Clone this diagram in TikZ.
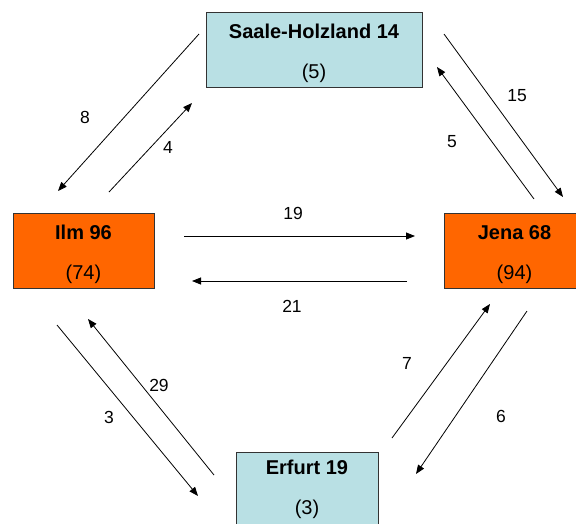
\documentclass[tikz,border=0pt]{standalone}
\usepackage{fontspec}
\setmainfont{Liberation Sans}
\usetikzlibrary{arrows.meta}
\definecolor{lblue}{RGB}{185,224,228}
\definecolor{orng}{RGB}{255,102,0}
\newcommand{\pushdown}{\rule{0pt}{22.5pt}}
\tikzset{
  box/.style={draw=black!80, line width=0.9pt, minimum width=141pt, minimum height=75pt, align=center, inner sep=0pt, font=\fontsize{20}{40}\selectfont},
  bluebox/.style={box, fill=lblue},
  orangebox/.style={box, fill=orng},
  flow/.style={line width=0.8pt, -{Triangle[length=9pt,width=7pt]}},
  lbl/.style={font=\fontsize{17.5}{20}\selectfont, inner sep=0pt}
}
\begin{document}
\begin{tikzpicture}[x=1pt,y=-1pt]
\useasboundingbox (0,0) rectangle (576,523);
\clip (0,0) rectangle (576,523);
\node[bluebox, minimum width=216pt] (saale) at (314,49.5) {\pushdown\textbf{Saale-Holzland 14}\\(5)};
\node[orangebox] (ilm) at (83.5,250.5) {\pushdown\textbf{Ilm 96}\\(74)};
\node[orangebox] (jena) at (514.5,250.5) {\pushdown\textbf{Jena 68}\\(94)};
\node[bluebox, minimum width=142pt] (erfurt) at (307,489.5) {\textbf{Erfurt 19}\\(3)};
% endpoints
\coordinate (a8s) at (199,34);  \coordinate (a8e) at (58,191);
\coordinate (a4s) at (109,192); \coordinate (a4e) at (192,103);
\coordinate (a15s) at (444,34); \coordinate (a15e) at (563,197);
\coordinate (a5s) at (534,199); \coordinate (a5e) at (437,67);
\coordinate (a19s) at (184,236); \coordinate (a19e) at (415,236);
\coordinate (a21s) at (407,281); \coordinate (a21e) at (192,281);
\coordinate (a3s) at (57,325);  \coordinate (a3e) at (198,496);
\coordinate (a29s) at (214,475); \coordinate (a29e) at (88,319);
\coordinate (a7s) at (392,438); \coordinate (a7e) at (490,304);
\coordinate (a6s) at (527,311); \coordinate (a6e) at (416,474);
\draw[flow] (a8s) -- (a8e);
\draw[flow] (a4s) -- (a4e);
\draw[flow] (a15s) -- (a15e);
\draw[flow] (a5s) -- (a5e);
\draw[flow] (a19s) -- (a19e);
\draw[flow] (a21s) -- (a21e);
\draw[flow] (a3s) -- (a3e);
\draw[flow] (a29s) -- (a29e);
\draw[flow] (a7s) -- (a7e);
\draw[flow] (a6s) -- (a6e);
% labels
\node[lbl] (l8) at (85,117) {8};
\node[lbl] (l4) at (168,147) {4};
\node[lbl] (l15) at (517,96) {15};
\node[lbl] (l5) at (452,142) {5};
\node[lbl] (l19) at (293,213) {19};
\node[lbl] (l21) at (292,306) {21};
\node[lbl] (l3) at (109,417) {3};
\node[lbl] (l29) at (159,385) {29};
\node[lbl] (l7) at (407,363) {7};
\node[lbl] (l6) at (501,416) {6};
\end{tikzpicture}
\end{document}
